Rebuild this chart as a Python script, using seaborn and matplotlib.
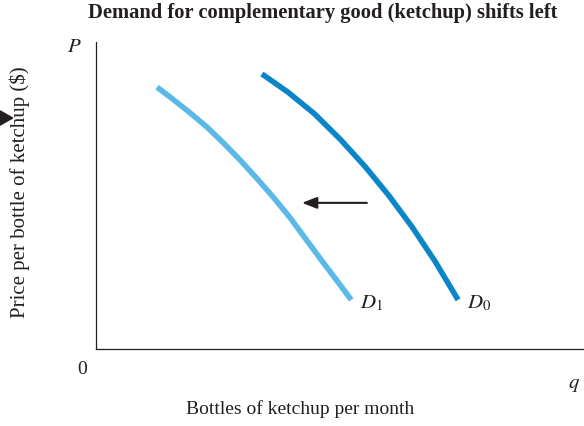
"""
Demand for a complementary good (ketchup) shifts left.
"""
import matplotlib
matplotlib.use("Agg")
import matplotlib.pyplot as plt
from matplotlib.patches import FancyArrowPatch
import pandas as pd
import seaborn as sns

# Curve points (abstract units, 0-10 on both axes)
d0_q = [3.40, 3.93, 4.47, 5.00, 5.51, 6.00, 6.48, 6.95, 7.42]
d0_p = [8.96, 8.37, 7.67, 6.84, 5.95, 5.00, 3.97, 2.85, 1.60]
d1_q = [1.25, 1.58, 1.93, 2.28, 2.60, 2.95, 3.30, 3.63, 3.98, 4.30, 4.63, 4.94, 5.23]
d1_p = [8.53, 8.13, 7.69, 7.22, 6.73, 6.16, 5.55, 4.95, 4.27, 3.58, 2.87, 2.22, 1.60]

# shift arrow (from -> to)
arrow_from = (5.55, 4.76)
arrow_to = (4.22, 4.76)

COLOR_D0 = "#0A86C8"
COLOR_D1 = "#5AB9E7"
INK = "#231F20"

sns.set_style("white")
plt.rcParams["font.family"] = ["Liberation Serif", "DejaVu Serif"]
plt.rcParams["mathtext.fontset"] = "stix"

df0 = pd.DataFrame({"q": d0_q, "p": d0_p})
df1 = pd.DataFrame({"q": d1_q, "p": d1_p})

fig = plt.figure(figsize=(5.84, 4.26), dpi=100)
ax = fig.add_axes([96 / 584, 77 / 426, 488 / 584, 307 / 426])

sns.lineplot(data=df1, x="q", y="p", sort=False, ax=ax, color=COLOR_D1,
             linewidth=4, solid_capstyle="butt", solid_joinstyle="round")
sns.lineplot(data=df0, x="q", y="p", sort=False, ax=ax, color=COLOR_D0,
             linewidth=4, solid_capstyle="butt", solid_joinstyle="round")

ax.annotate("", xy=arrow_to, xytext=arrow_from,
            arrowprops=dict(arrowstyle="-|>,head_length=0.9,head_width=0.35",
                            color=INK, lw=1.5, shrinkA=0, shrinkB=0))

ax.set_xlim(0, 10)
ax.set_ylim(0, 10)
ax.set_xticks([])
ax.set_yticks([])
ax.set_xlabel("")
ax.set_ylabel("")
for s in ["top", "right"]:
    ax.spines[s].set_visible(False)
for s in ["left", "bottom"]:
    ax.spines[s].set_color(INK)
    ax.spines[s].set_linewidth(0.9)

# curve labels
ax.text(5.42, 1.48, "$D_1$", fontsize=15, va="center", ha="left", color=INK)
ax.text(7.60, 1.48, "$D_0$", fontsize=15, va="center", ha="left", color=INK)

# axis letters and origin
fig.text(74 / 584, 1 - 48 / 426, "$P$", fontsize=15, ha="center", va="center", color=INK)
fig.text(82 / 584, 1 - 370 / 426, "0", fontsize=14, ha="center", va="center", color=INK)
fig.text(574 / 584, 1 - 384 / 426, "$q$", fontsize=15, ha="center", va="center", color=INK)

fig.text(300 / 584, 1 - 409 / 426, "Bottles of ketchup per month", fontsize=14,
         ha="center", va="center", color=INK)
fig.text(20 / 584, 1 - 192 / 426, "Price per bottle of ketchup ($)", fontsize=15,
         ha="center", va="center", rotation=90, color=INK)
fig.text(323 / 584, 1 - 13 / 426, "Demand for complementary good (ketchup) shifts left",
         fontsize=14.8, fontweight="bold", ha="center", va="center", color=INK)

# small stray arrow at the left edge
fig.patches.append(FancyArrowPatch(
    (-2 / 584, 1 - 118 / 426), (14 / 584, 1 - 118 / 426),
    transform=fig.transFigure, arrowstyle="-|>,head_length=0.7,head_width=0.4",
    color=INK, lw=1.5, mutation_scale=12, shrinkA=0, shrinkB=0))

fig.savefig("out.png", dpi=100)
plt.close(fig)
